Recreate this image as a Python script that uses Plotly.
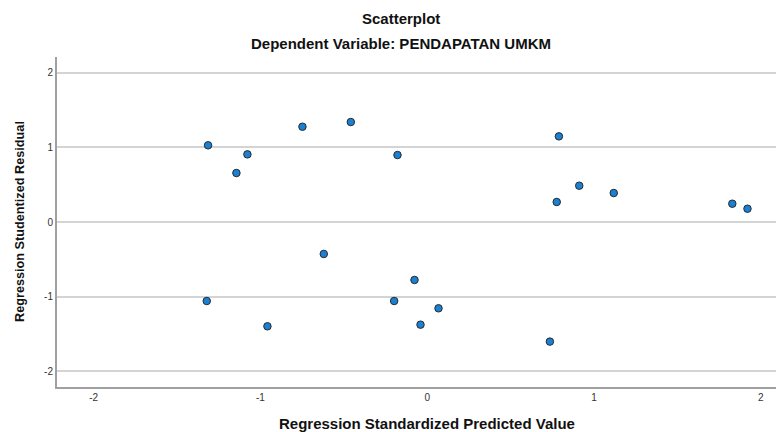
import plotly.graph_objects as go

pred = [-1.314, -1.078, -1.144, -0.748, -0.458, -0.178, 0.790, 0.912, 0.777, 1.119,
        1.830, 1.921, -0.620, -0.076, -1.322, -0.958, -0.198, -0.040, 0.068, 0.736]
resid = [1.027, 0.906, 0.656, 1.276, 1.339, 0.897, 1.147, 0.486, 0.268, 0.388,
         0.245, 0.178, -0.428, -0.776, -1.058, -1.397, -1.058, -1.375, -1.156, -1.602]
tick_vals = [-2, -1, 0, 1, 2]
tick_text = ["-2", "-1", "0", "1", "2"]

title = "Scatterplot"
subtitle = "Dependent Variable: PENDAPATAN UMKM"
x_title = "Regression Standardized Predicted Value"
y_title = "Regression Studentized Residual"

FONT = "Liberation Sans, Arial, sans-serif"

fig = go.Figure(go.Scatter(
    x=pred, y=resid, mode="markers",
    marker=dict(size=7.5, color="#1a80d4", line=dict(color="#2a2a2a", width=1)),
    hoverinfo="x+y",
))

fig.update_layout(
    width=776, height=424,
    margin=dict(l=49, r=0, t=49, b=45),
    plot_bgcolor="white", paper_bgcolor="white",
    showlegend=False,
    font=dict(family=FONT, color="#222"),
    xaxis=dict(range=[-2.22, 2.14], tickvals=tick_vals, ticktext=tick_text,
               showgrid=False, zeroline=False, showline=True, linecolor="#a0a0a0",
               linewidth=2, ticks="", tickfont=dict(size=10, color="#333")),
    yaxis=dict(range=[-2.21, 2.21], tickvals=tick_vals, ticktext=tick_text,
               showgrid=True, gridcolor="#d4d4d4", gridwidth=1.5, zeroline=False,
               showline=True, linecolor="#a0a0a0", linewidth=2, ticks="",
               tickfont=dict(size=10, color="#333")),
    annotations=[
        dict(text="<b>" + title + "</b>", xref="paper", yref="paper", x=0.473, y=1,
             yshift=39, showarrow=False, font=dict(size=15, color="#111"), yanchor="middle"),
        dict(text="<b>" + subtitle + "</b>", xref="paper", yref="paper", x=0.473, y=1,
             yshift=14, showarrow=False, font=dict(size=15, color="#111"), yanchor="middle"),
        dict(text="<b>" + x_title + "</b>", xref="paper", yref="paper", x=0.509, y=0,
             yshift=-36, showarrow=False, font=dict(size=15, color="#111"), yanchor="middle"),
        dict(text="<b>" + y_title + "</b>", xref="paper", yref="paper", x=0, y=0.5,
             xshift=-37, showarrow=False, textangle=-90, font=dict(size=12.7, color="#111"),
             xanchor="center", yanchor="middle"),
    ],
)

fig.write_html("out.html")
